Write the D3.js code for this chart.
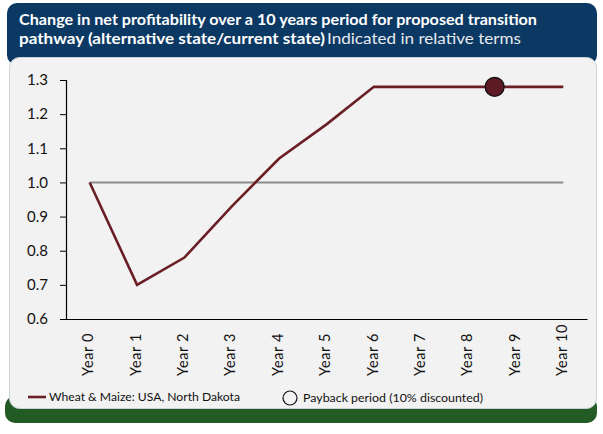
<!DOCTYPE html>
<html>
<head>
<meta charset="utf-8">
<script src="https://cdn.jsdelivr.net/npm/d3@7"></script>
<style>
  html, body { margin: 0; padding: 0; background: #ffffff; }
  svg { display: block; font-family: Lato, "Open Sans", sans-serif; }
</style>
</head>
<body>
<svg id="chart" width="603" height="434"></svg>
<script>
// Net profitability ratio (alternative state / current state) by year
const years = ["Year 0", "Year 1", "Year 2", "Year 3", "Year 4", "Year 5",
               "Year 6", "Year 7", "Year 8", "Year 9", "Year 10"];
const ratio = [1.0, 0.70, 0.78, 0.93, 1.07, 1.17, 1.28, 1.28, 1.28, 1.28, 1.28];
const baseline = [1.0, 1.0, 1.0, 1.0, 1.0, 1.0, 1.0, 1.0, 1.0, 1.0, 1.0];
const yTicks = [0.6, 0.7, 0.8, 0.9, 1.0, 1.1, 1.2, 1.3];
// Payback point: position along the year axis (fractional year) and its ratio
const paybackYear = 8.55;
const paybackValue = 1.28;

const seriesName = "Wheat & Maize: USA, North Dakota";
const paybackName = "Payback period (10% discounted)";

const svg = d3.select("#chart");

// Frame: green base, blue header, light panel
svg.append("rect").attr("x", 5).attr("y", 396).attr("width", 592).attr("height", 27)
  .attr("rx", 10).attr("fill", "#225b23");
svg.append("rect").attr("x", 7).attr("y", 3).attr("width", 590).attr("height", 62)
  .attr("rx", 10).attr("fill", "#0b3963");
svg.append("rect").attr("x", 9.5).attr("y", 57.5).attr("width", 587).attr("height", 351)
  .attr("rx", 10).attr("fill", "#f2f2f2").attr("stroke", "#c9d2da").attr("stroke-width", 1);

// Title
const title = svg.append("text").attr("fill", "#ffffff").attr("font-size", 15);
title.append("tspan").attr("x", 19).attr("y", 25).attr("font-weight", "bold")
  .attr("textLength", 518).attr("lengthAdjust", "spacingAndGlyphs")
  .text("Change in net profitability over a 10 years period for proposed transition");
title.append("tspan").attr("x", 19).attr("y", 44).attr("font-weight", "bold")
  .attr("textLength", 306).attr("lengthAdjust", "spacingAndGlyphs")
  .text("pathway (alternative state/current state)");
title.append("tspan").attr("x", 327).attr("y", 44).attr("fill", "#e6eaef")
  .attr("textLength", 194).attr("lengthAdjust", "spacingAndGlyphs")
  .text("Indicated in relative terms");

// Plot area
const plotLeft = 66, plotRight = 587, plotTop = 80, plotBottom = 319;

const x = d3.scaleBand().domain(years).range([plotLeft, plotRight]);
const xc = d => x(d) + x.bandwidth() / 2;
const xPos = d3.scaleLinear().domain([0, years.length - 1])
  .range([xc(years[0]), xc(years[years.length - 1])]);
const y = d3.scaleLinear().domain([0.6, 1.3]).range([plotBottom, plotTop]);

// Y axis
const yAxis = svg.append("g").attr("transform", `translate(${plotLeft},0)`)
  .call(d3.axisLeft(y).tickValues(yTicks).tickFormat(d3.format(".1f")).tickSizeOuter(0).tickSize(6));
yAxis.select(".domain").attr("stroke", "#000").attr("stroke-width", 1.2);
yAxis.selectAll(".tick line").attr("stroke", "#000").attr("stroke-width", 1);
yAxis.selectAll(".tick text").attr("font-size", 15).attr("fill", "#111")
  .attr("font-family", "Lato, sans-serif").attr("x", -18);

// X axis (no tick marks)
const xAxis = svg.append("g").attr("transform", `translate(0,${plotBottom})`)
  .call(d3.axisBottom(x).tickSize(0).tickSizeOuter(0));
xAxis.select(".domain").attr("stroke", "#000").attr("stroke-width", 1.2);
xAxis.selectAll(".tick text")
  .attr("font-size", 14.5).attr("fill", "#111").attr("font-family", "Lato, sans-serif")
  .attr("text-anchor", "start")
  .attr("dy", null)
  .attr("letter-spacing", 0.6)
  .attr("transform", "translate(0,57) rotate(-90)")
  .attr("x", 0).attr("y", 0).attr("dominant-baseline", "middle");

// Reference line at 1.0
const line = d3.line().x((d, i) => xc(years[i])).y(d => y(d));
svg.append("path").datum(baseline).attr("d", line)
  .attr("fill", "none").attr("stroke", "#8c8c8c").attr("stroke-width", 2);

// Profitability series
svg.append("path").datum(ratio).attr("d", line)
  .attr("fill", "none").attr("stroke", "#6a1f27").attr("stroke-width", 2.6)
  .attr("stroke-linejoin", "miter");

// Payback marker
svg.append("circle").attr("cx", xPos(paybackYear)).attr("cy", y(paybackValue)).attr("r", 9.5)
  .attr("fill", "#5e1a22").attr("stroke", "#111").attr("stroke-width", 1.3);

// Legend
const lg = svg.append("g").attr("font-size", 12).attr("fill", "#111");
lg.append("line").attr("x1", 28).attr("x2", 46).attr("y1", 397).attr("y2", 397)
  .attr("stroke", "#6a1f27").attr("stroke-width", 2.6);
lg.append("text").attr("x", 49).attr("y", 401).attr("textLength", 191)
  .attr("lengthAdjust", "spacingAndGlyphs").text(seriesName);
lg.append("circle").attr("cx", 290).attr("cy", 398).attr("r", 7)
  .attr("fill", "none").attr("stroke", "#111").attr("stroke-width", 1.2);
lg.append("text").attr("x", 303).attr("y", 402).attr("textLength", 180)
  .attr("lengthAdjust", "spacingAndGlyphs").text(paybackName);
</script>
</body>
</html>
